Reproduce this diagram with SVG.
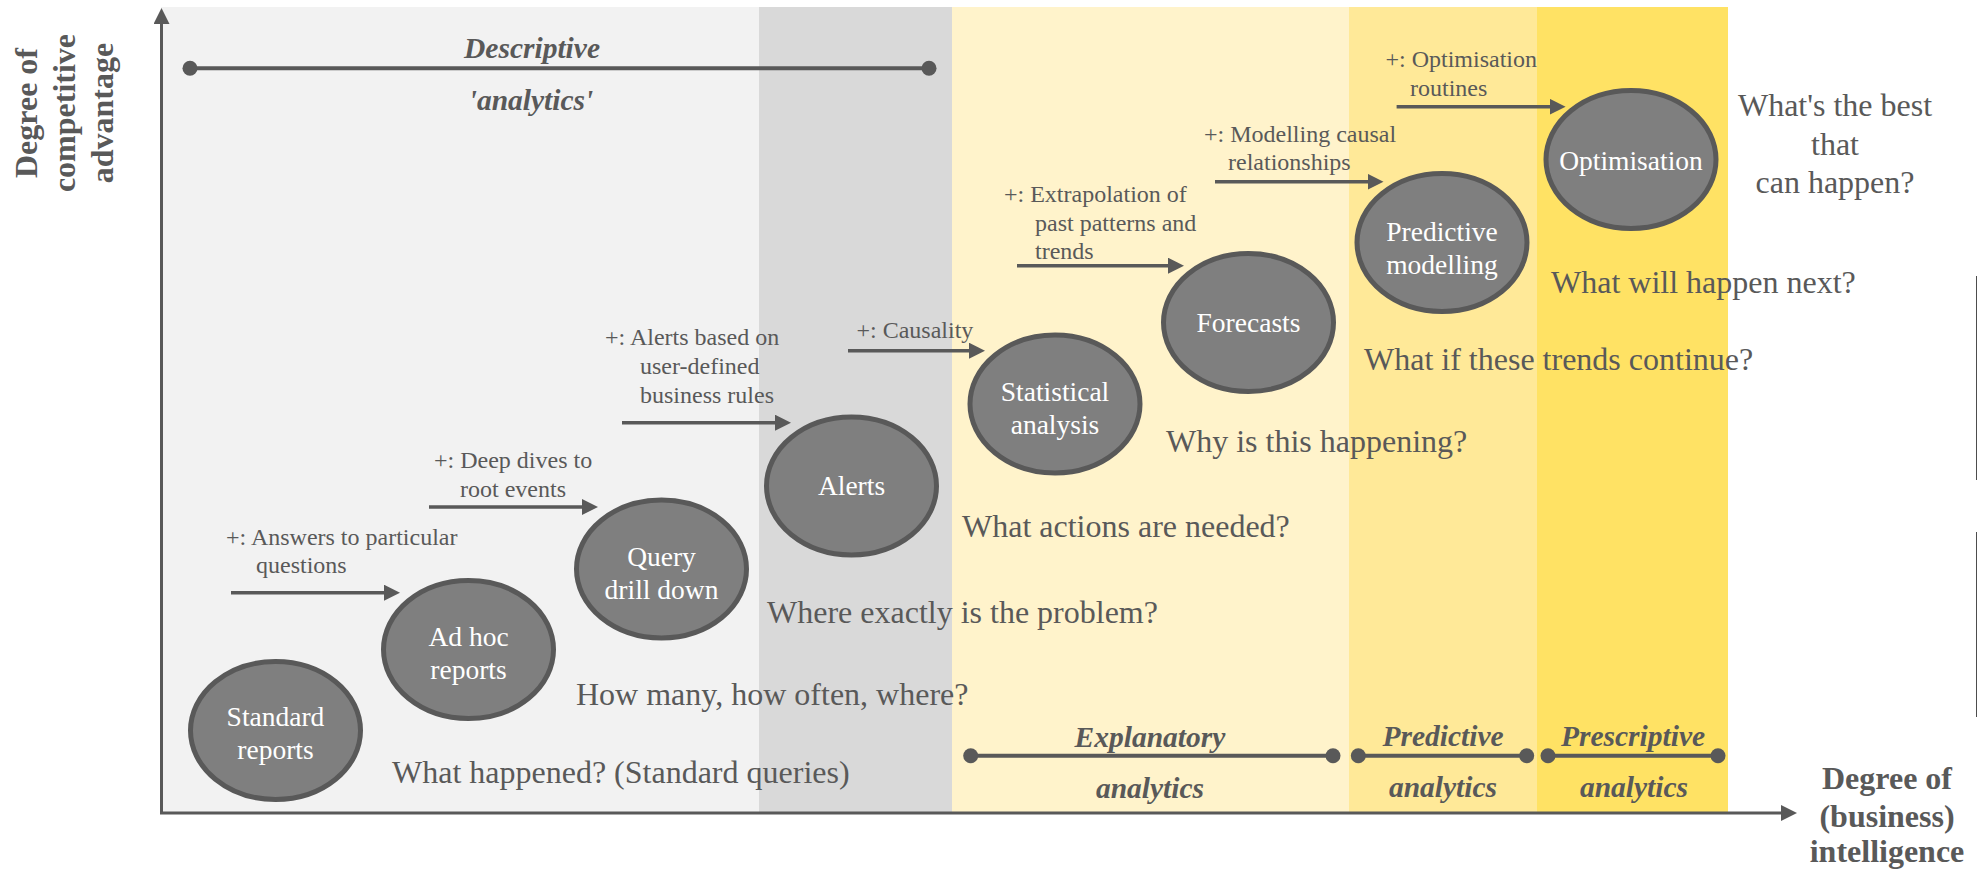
<svg xmlns="http://www.w3.org/2000/svg" width="1977" height="871" viewBox="0 0 1977 871">
  <defs>
    <style>
      text { font-family: "Liberation Serif", "Times New Roman", serif; fill: #595959; }
      .axis-label { font-size: 32px; font-weight: bold; }
      .node-shape { fill: #7f7f7f; stroke: #595959; stroke-width: 5; }
      .node-text { font-size: 27.5px; fill: #ffffff; text-anchor: middle; }
      .note { font-size: 24px; }
      .question { font-size: 32px; }
      .phase { font-size: 29.5px; font-weight: bold; font-style: italic; text-anchor: middle; }
      .arrow { stroke: #595959; stroke-width: 3.5; fill: none; marker-end: url(#head); }
      .axis { stroke: #595959; stroke-width: 3; fill: none; }
      .span { stroke: #595959; stroke-width: 4; fill: none; }
      .dot { fill: #595959; }
    </style>
    <marker id="head" viewBox="0 0 16 16" refX="1" refY="8" markerWidth="16" markerHeight="16" markerUnits="userSpaceOnUse" orient="auto">
      <path d="M0,0 L16,8 L0,16 z" fill="#595959"/>
    </marker>
    <marker id="axis-head" viewBox="0 0 16 16" refX="1" refY="8" markerWidth="16" markerHeight="16" markerUnits="userSpaceOnUse" orient="auto">
      <path d="M0,0 L16,8 L0,16 z" fill="#595959"/>
    </marker>
  </defs>

  <rect width="1977" height="871" fill="#ffffff"/>

  <!-- background phase bands -->
  <g id="bands">
    <rect x="161" y="7" width="598" height="806" fill="#f2f2f2"/>
    <rect x="759" y="7" width="193" height="806" fill="#d9d9d9"/>
    <rect x="952" y="7" width="397" height="806" fill="#fff3cb"/>
    <rect x="1349" y="7" width="188" height="806" fill="#ffe998"/>
    <rect x="1537" y="7" width="191" height="806" fill="#ffe264"/>
  </g>

  <!-- thin edge strokes at the right border -->
  <g id="edge-marks" stroke="#4d4d4d" stroke-width="1">
    <line x1="1976.5" y1="276" x2="1976.5" y2="480"/>
    <line x1="1976.5" y1="532" x2="1976.5" y2="717"/>
  </g>

  <!-- axes -->
  <g id="axes">
    <line class="axis" x1="161.5" y1="813" x2="161.5" y2="23" marker-end="url(#axis-head)"/>
    <line class="axis" x1="160" y1="813" x2="1782" y2="813" marker-end="url(#axis-head)"/>
    <text class="axis-label" text-anchor="middle" transform="translate(37,113) rotate(-90)">Degree of</text>
    <text class="axis-label" text-anchor="middle" transform="translate(75,113) rotate(-90)">competitive</text>
    <text class="axis-label" text-anchor="middle" transform="translate(113,113) rotate(-90)">advantage</text>
    <text class="axis-label" text-anchor="middle" x="1887" y="789">Degree of</text>
    <text class="axis-label" text-anchor="middle" x="1887" y="827">(business)</text>
    <text class="axis-label" text-anchor="middle" x="1887" y="862">intelligence</text>
  </g>

  <!-- analytics phase spans -->
  <g id="phases">
    <line class="span" x1="190" y1="68.3" x2="929" y2="68.3"/>
    <circle class="dot" cx="190" cy="68.3" r="7.5"/>
    <circle class="dot" cx="929" cy="68.3" r="7.5"/>
    <text class="phase" x="532" y="58">Descriptive</text>
    <text class="phase" x="531" y="110">'analytics'</text>

    <line class="span" x1="970.7" y1="755.7" x2="1333" y2="755.7"/>
    <circle class="dot" cx="970.7" cy="755.7" r="7.5"/>
    <circle class="dot" cx="1333" cy="755.7" r="7.5"/>
    <text class="phase" x="1150" y="746.5">Explanatory</text>
    <text class="phase" x="1150" y="798">analytics</text>

    <line class="span" x1="1358.3" y1="755.7" x2="1526.7" y2="755.7"/>
    <circle class="dot" cx="1358.3" cy="755.7" r="7.5"/>
    <circle class="dot" cx="1526.7" cy="755.7" r="7.5"/>
    <text class="phase" x="1443" y="746">Predictive</text>
    <text class="phase" x="1443" y="797">analytics</text>

    <line class="span" x1="1548" y1="755.7" x2="1718" y2="755.7"/>
    <circle class="dot" cx="1548" cy="755.7" r="7.5"/>
    <circle class="dot" cx="1718" cy="755.7" r="7.5"/>
    <text class="phase" x="1633" y="746">Prescriptive</text>
    <text class="phase" x="1634" y="797">analytics</text>
  </g>

  <!-- connectors: capability increments -->
  <g id="connectors">
    <line class="arrow" x1="231" y1="592.7" x2="385" y2="592.7"/>
    <line class="arrow" x1="429" y1="507" x2="583" y2="507"/>
    <line class="arrow" x1="622" y1="422.7" x2="776" y2="422.7"/>
    <line class="arrow" x1="848" y1="350.7" x2="970" y2="350.7"/>
    <line class="arrow" x1="1017" y1="265.7" x2="1169" y2="265.7"/>
    <line class="arrow" x1="1215" y1="181.7" x2="1368.5" y2="181.7"/>
    <line class="arrow" x1="1396.6" y1="106.7" x2="1550.6" y2="106.7"/>
  </g>

  <!-- connector labels -->
  <g id="notes">
    <text class="note" x="226" y="545">+: Answers to particular</text>
    <text class="note" x="256" y="573">questions</text>
    <text class="note" x="434" y="468">+: Deep dives to</text>
    <text class="note" x="460" y="497">root events</text>
    <text class="note" x="605" y="345">+: Alerts based on</text>
    <text class="note" x="640" y="374">user-defined</text>
    <text class="note" x="640" y="403">business rules</text>
    <text class="note" x="856.5" y="338">+: Causality</text>
    <text class="note" x="1004" y="201.7">+: Extrapolation of</text>
    <text class="note" x="1035" y="230.7">past patterns and</text>
    <text class="note" x="1035" y="259.3">trends</text>
    <text class="note" x="1204" y="141.7">+: Modelling causal</text>
    <text class="note" x="1228" y="170">relationships</text>
    <text class="note" x="1385.5" y="66.7">+: Optimisation</text>
    <text class="note" x="1410" y="95.7">routines</text>
  </g>

  <!-- nodes -->
  <g id="node-standard-reports">
    <ellipse class="node-shape" cx="275.5" cy="730.5" rx="85" ry="69"/>
    <text class="node-text" x="275.5" y="726">Standard</text>
    <text class="node-text" x="275.5" y="759">reports</text>
  </g>
  <g id="node-ad-hoc-reports">
    <ellipse class="node-shape" cx="468.5" cy="649.5" rx="85" ry="69"/>
    <text class="node-text" x="468.5" y="646">Ad hoc</text>
    <text class="node-text" x="468.5" y="679">reports</text>
  </g>
  <g id="node-query-drill-down">
    <ellipse class="node-shape" cx="661.5" cy="569" rx="85" ry="69"/>
    <text class="node-text" x="661.5" y="566">Query</text>
    <text class="node-text" x="661.5" y="599">drill down</text>
  </g>
  <g id="node-alerts">
    <ellipse class="node-shape" cx="851.5" cy="486" rx="85" ry="69"/>
    <text class="node-text" x="851.5" y="495">Alerts</text>
  </g>
  <g id="node-statistical-analysis">
    <ellipse class="node-shape" cx="1055" cy="404" rx="85" ry="69"/>
    <text class="node-text" x="1055" y="401">Statistical</text>
    <text class="node-text" x="1055" y="434">analysis</text>
  </g>
  <g id="node-forecasts">
    <ellipse class="node-shape" cx="1248.5" cy="322.5" rx="85" ry="69"/>
    <text class="node-text" x="1248.5" y="332">Forecasts</text>
  </g>
  <g id="node-predictive-modelling">
    <ellipse class="node-shape" cx="1442" cy="242.5" rx="85" ry="69"/>
    <text class="node-text" x="1442" y="241">Predictive</text>
    <text class="node-text" x="1442" y="274">modelling</text>
  </g>
  <g id="node-optimisation">
    <ellipse class="node-shape" cx="1631" cy="159.5" rx="85" ry="69"/>
    <text class="node-text" x="1631" y="170">Optimisation</text>
  </g>

  <!-- guiding questions -->
  <g id="questions">
    <text class="question" x="392" y="783">What happened? (Standard queries)</text>
    <text class="question" x="576" y="705">How many, how often, where?</text>
    <text class="question" x="767" y="623">Where exactly is the problem?</text>
    <text class="question" x="962" y="537">What actions are needed?</text>
    <text class="question" x="1166" y="452">Why is this happening?</text>
    <text class="question" x="1364" y="370">What if these trends continue?</text>
    <text class="question" x="1551" y="293">What will happen next?</text>
    <text class="question" text-anchor="middle" x="1835" y="116">What's the best</text>
    <text class="question" text-anchor="middle" x="1835" y="155">that</text>
    <text class="question" text-anchor="middle" x="1835" y="193">can happen?</text>
  </g>
</svg>
